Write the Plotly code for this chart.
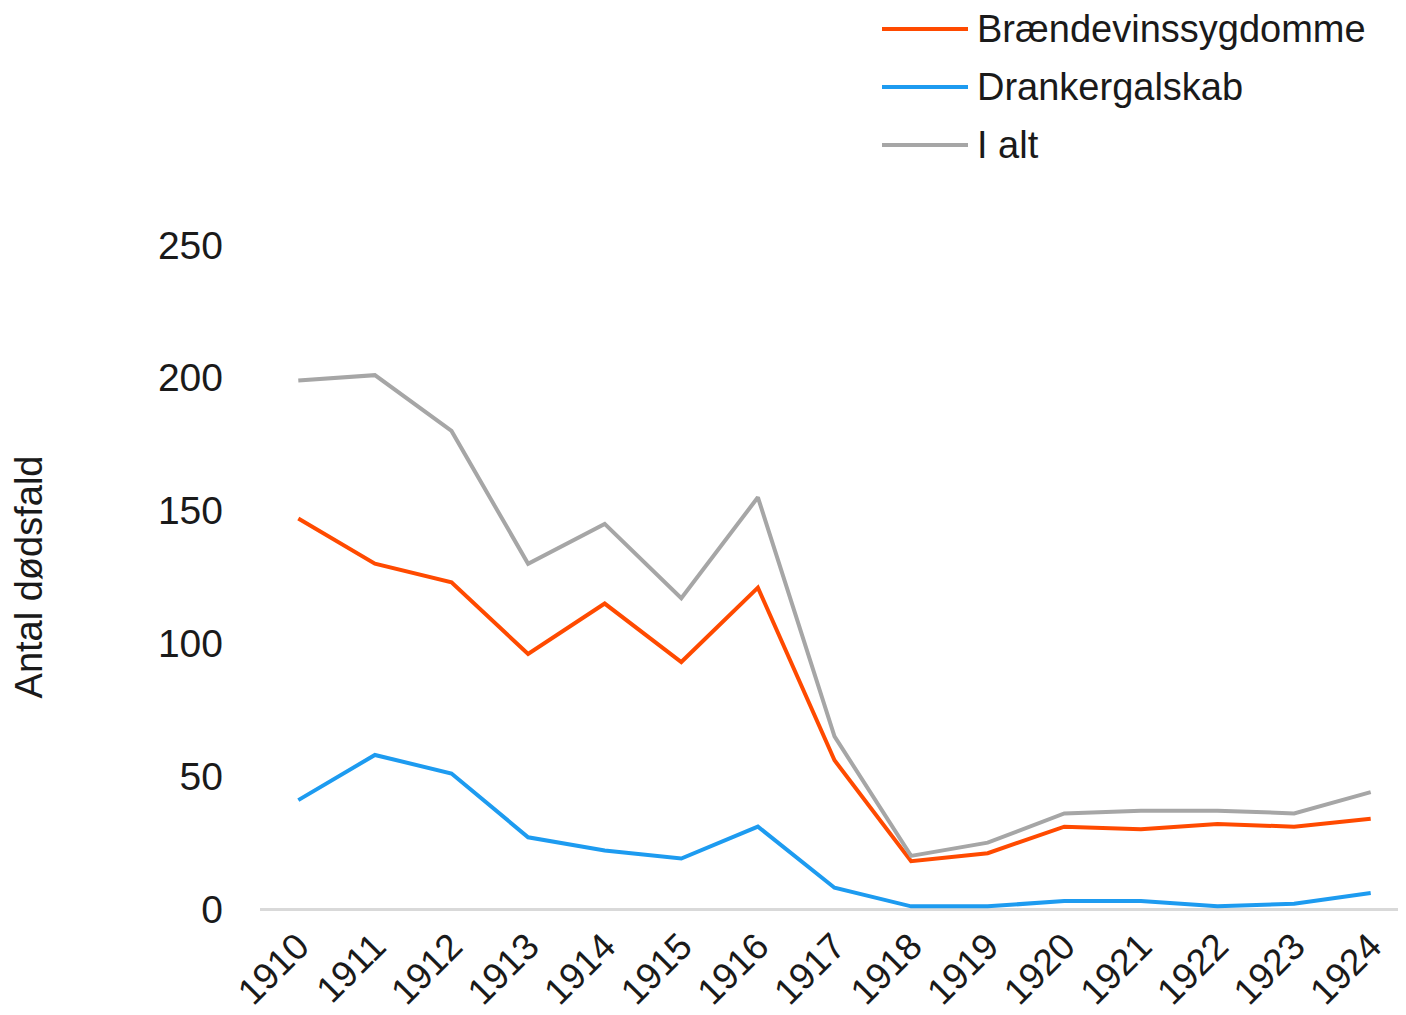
import plotly.graph_objects as go

years = [str(y) for y in range(1910, 1925)]
braendevin = [147, 130, 123, 96, 115, 93, 121, 56, 18, 21, 31, 30, 32, 31, 34]
drankergalskab = [41, 58, 51, 27, 22, 19, 31, 8, 1, 1, 3, 3, 1, 2, 6]
i_alt = [199, 201, 180, 130, 145, 117, 155, 65, 20, 25, 36, 37, 37, 36, 44]

series_names = ["Brændevinssygdomme", "Drankergalskab", "I alt"]
series_colors = ["#ff4a00", "#1d9bf0", "#a6a6a6"]

FONT = "Liberation Sans, Arial, sans-serif"

# page has an 8px body margin, so plot edges below are shifted by that
M_L, M_R, M_T, M_B = 252, 5, 237, 114
W, H = 1406, 1015
PW, PH = W - M_L - M_R, H - M_T - M_B


def to_paper(px, py):
    # px, py: pixel position in the figure (top-left origin)
    return (px - M_L) / PW, (H - py - M_B) / PH


fig = go.Figure()
for name, values, color in zip(series_names, [braendevin, drankergalskab, i_alt], series_colors):
    fig.add_trace(
        go.Scatter(
            x=years,
            y=values,
            mode="lines",
            name=name,
            line={"color": color, "width": 4},
            showlegend=False,
        )
    )

# legend drawn by hand to get the long line samples
shapes = []
annotations = []
for i, (name, color) in enumerate(zip(series_names, series_colors)):
    row_y = 21 + 58 * i
    x0, y0 = to_paper(874, row_y)
    x1, _ = to_paper(960, row_y)
    xt, _ = to_paper(968, row_y)
    shapes.append(
        {
            "type": "line",
            "xref": "paper",
            "yref": "paper",
            "x0": x0,
            "x1": x1,
            "y0": y0,
            "y1": y0,
            "line": {"color": color, "width": 4},
        }
    )
    annotations.append(
        {
            "text": name,
            "xref": "paper",
            "yref": "paper",
            "x": xt,
            "y": y0,
            "xanchor": "left",
            "yanchor": "middle",
            "showarrow": False,
            "borderpad": 0,
            "font": {"size": 38, "color": "#1a1a1a", "family": FONT},
        }
    )

fig.update_layout(
    width=W,
    height=H,
    margin={"l": M_L, "r": M_R, "t": M_T, "b": M_B},
    paper_bgcolor="white",
    plot_bgcolor="white",
    font={"family": FONT, "color": "#1a1a1a"},
    shapes=shapes,
    annotations=annotations,
)
fig.update_xaxes(
    type="category",
    range=[-0.5, 14.5],
    showgrid=False,
    showline=False,
    zeroline=False,
    tickangle=-45,
    tickfont={"size": 37},
    ticks="",
    ticklabelstandoff=7,
)
fig.update_yaxes(
    range=[0, 250],
    tickvals=[0, 50, 100, 150, 200, 250],
    showgrid=False,
    zeroline=True,
    zerolinecolor="#d9d9d9",
    zerolinewidth=3,
    showline=False,
    tickfont={"size": 39},
    ticks="",
    ticklabelstandoff=36,
    title={"text": "Antal dødsfald", "font": {"size": 38}, "standoff": 104},
)

fig.write_html("out.html")
